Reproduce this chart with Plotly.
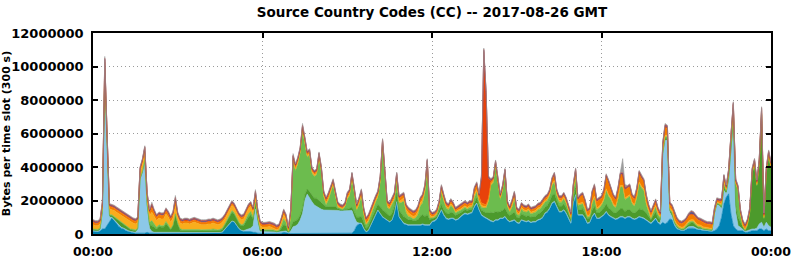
import plotly.graph_objects as go

# ---------------- data (values in millions of bytes per 300 s slot) ----------------
slots_per_hour = 12
tick_hours = [0, 6, 12, 18, 24]
tick_labels = ["00:00", "06:00", "12:00", "18:00", "00:00"]
y_tick_values = [0, 2000000, 4000000, 6000000, 8000000, 10000000, 12000000]
y_tick_labels = ["0", "2000000", "4000000", "6000000", "8000000", "10000000", "12000000"]

cc_darkblue = [
 .15,.12,.12,.18,.3,.3,.5,.7,.95,.8,.6,.45,
 .35,.3,.2,.15,.1,.08,.05,.05,.05,.05,.05,.1,
 .05,.05,.05,.05,.05,.05,.05,.05,.05,.05,.05,.05,
 .05,.05,.05,.05,.05,.05,.05,.05,.05,.05,.05,.05,
 .05,.05,.05,.05,.05,.05,.06,.1,.25,.45,.6,.75,
 .7,.5,.3,.2,.15,.15,.15,.15,.1,.1,.05,.03,
 .03,.03,.03,.03,.03,.03,.02,.02,.05,.1,.08,.02,
 .03,.03,.03,.03,.03,.03,.03,.03,.03,.03,.03,.03,
 .03,.03,.03,.03,.03,.03,.03,.03,.03,.03,.03,.03,
 .03,.03,.05,.2,.5,.6,.6,.3,.1,.2,.5,.8,
 1.1,1.4,1.2,1.0,.9,.8,.7,.8,1.2,1.9,1.0,.8,
 .6,.55,.5,.5,.5,.5,.5,.5,.55,.5,.5,.5,
 .7,.75,.85,1.1,1.4,1.1,.9,.85,.9,.9,.8,.85,
 1.0,1.1,1.2,1.15,1.2,1.25,1.6,1.8,1.4,1.1,1.0,.9,
 .8,.75,.7,.8,.8,.9,.9,1.0,.8,.7,.75,.8,
 .65,.6,.8,.75,.7,.75,.65,.7,.7,.8,.85,.95,
 1.2,1.3,1.5,1.8,1.9,1.6,1.3,1.3,1.4,1.2,.9,.6,
 1.8,2.3,1.1,1.1,1.1,.9,.6,.65,1.0,1.2,.9,.9,
 1.0,1.1,1.3,1.1,1.0,.9,.85,.9,1.0,1.0,.9,1.0,
 1.0,.9,.85,.9,1.0,.95,.9,.8,.7,.6,.75,.9,
 .65,.55,.7,.6,.7,.9,.85,.5,.3,.25,.2,.2,
 .3,.35,.35,.35,.3,.25,.25,.2,.2,.18,.18,.15,
 .2,.3,.5,1.0,1.8,2.2,2.4,1.2,.5,.3,.2,.2,
 .2,.1,.1,.15,.2,.2,.2,.3,.3,.2,.3,.2,
 .2]

cc_lightblue = [
 .05,.05,.05,.05,1.0,9.1,4.6,.3,.05,.05,.05,.05,
 .05,.05,.05,.05,.05,.05,.05,.2,3.2,3.6,4.3,1.6,
 .3,.1,.05,.05,.05,.05,.05,.05,.05,.05,.05,.05,
 .03,.03,.03,.03,.03,.03,.03,.03,.03,.03,.03,.03,
 .03,.03,.03,.03,.03,.03,.03,.03,.03,.03,.03,.03,
 .03,.03,.03,.03,.05,.1,.15,.2,.4,1.4,.6,.12,
 .12,.12,.13,.14,.12,.1,.08,.1,.1,.1,.1,.05,
 .15,.4,.45,.55,.8,1.2,2.0,2.35,2.1,1.9,1.7,1.6,
 1.5,1.45,1.4,1.4,1.4,1.4,1.4,1.4,1.38,1.35,1.35,1.35,
 1.35,1.35,1.35,.8,.2,.05,.05,.05,.03,.03,.03,.03,
 .03,.03,.03,.03,.03,.03,.03,.03,.03,.03,.03,.03,
 .05,.05,.05,.05,.05,.05,.05,.05,.05,.05,.05,.05,
 .05,.05,.05,.05,.05,.05,.05,.05,.05,.05,.05,.05,
 .05,.05,.05,.05,.05,.05,.05,.05,.05,.05,.05,.05,
 .05,.05,.05,.05,.05,.05,.05,.05,.05,.05,.05,.05,
 .05,.05,.05,.05,.05,.05,.05,.05,.05,.05,.05,.05,
 .05,.05,.05,.05,.05,.05,.05,.05,.05,.05,.05,.05,
 .05,.05,.05,.05,.05,.05,.05,.05,.05,.05,.05,.05,
 .05,.05,.05,.05,.05,.05,.05,.05,.05,.05,.05,.05,
 .05,.05,.05,.05,.05,.05,.05,.05,.05,.05,.05,.05,
 .05,.1,4.0,5.0,4.9,.4,.2,.1,.05,.03,.03,.03,
 .05,.08,.1,.1,.08,.05,.05,.05,.03,.03,.03,.03,
 1.0,1.45,1.2,.5,.8,.2,.7,3.5,6.0,1.0,.3,.2,
 .1,.05,.1,.1,.1,.1,.15,.3,.4,.2,.4,.3,
 .2]

cc_darkgreen = [
 .05,.05,.05,.06,.05,.1,.1,.1,.1,.15,.2,.25,
 .25,.2,.2,.15,.1,.1,.1,.05,.05,.05,.05,.05,
 .2,.35,.3,.2,.35,.3,.3,.5,.35,.15,.4,1.0,
 .5,.15,.12,.12,.14,.12,.12,.15,.12,.12,.1,.1,
 .1,.12,.12,.14,.12,.1,.12,.15,.25,.35,.45,.5,
 .45,.35,.3,.25,.3,.5,.7,.8,.4,.3,.2,.05,
 .05,.05,.05,.05,.05,.05,.04,.05,.2,.35,.3,.05,
 .2,.3,.3,.3,.3,.3,.3,.3,.4,.4,.4,.5,
 .5,.4,.3,.2,.2,.2,.2,.2,.1,.1,.05,.1,
 .1,.15,.2,.3,.3,.35,.4,.35,.2,.25,.3,.35,
 .35,.35,.4,.4,.4,.35,.35,.4,.4,.5,.4,.4,
 .4,.35,.3,.3,.25,.25,.3,.5,.55,.5,.6,.3,
 .15,.15,.15,.2,.3,.3,.3,.3,.35,.3,.25,.3,
 .2,.2,.2,.2,.2,.15,.25,.3,.25,.25,.3,.3,
 .4,.5,.5,.5,.45,.4,.45,.5,.4,.35,.4,.45,
 .3,.3,.35,.3,.3,.3,.3,.3,.3,.35,.35,.4,
 .35,.35,.4,.45,.45,.35,.3,.3,.35,.3,.25,.2,
 .3,.4,.3,.3,.35,.3,.25,.25,.35,.4,.3,.3,
 .35,.4,.45,.4,.4,.35,.35,.4,.45,.45,.4,.4,
 .4,.35,.35,.4,.45,.45,.45,.4,.3,.2,.3,.35,
 .25,.2,.1,.1,.1,.1,.15,.1,.1,.05,.05,.05,
 .1,.15,.2,.2,.15,.1,.1,.05,.05,.05,.05,.05,
 .05,.05,.05,.1,.2,.1,.2,.3,.3,.4,.5,.3,
 .1,.05,.3,1.0,3.3,3.8,2.5,3.5,6.4,.5,2.9,4.1,
 3.5]

cc_lightgreen = [
 .05,.05,.05,.05,.05,.1,.05,.05,.05,.05,.05,.05,
 .05,.05,.05,.05,.05,.05,.05,.05,.05,.05,.05,.05,
 .15,.3,.2,.1,.1,.1,.1,.15,.1,.05,.05,.1,
 .08,.08,.07,.07,.07,.07,.08,.08,.07,.07,.07,.07,
 .07,.07,.07,.08,.07,.07,.07,.08,.07,.07,.1,.12,
 .1,.07,.07,.07,.1,.15,.2,.2,.1,.1,.05,.05,
 .05,.05,.06,.06,.05,.05,.04,.05,.15,.35,.2,.03,
 .6,3.6,3.0,3.3,3.7,4.6,3.1,1.9,2.2,1.3,1.3,1.4,
 2.5,1.8,.5,.1,.4,.8,1.3,.6,.05,.05,.05,.15,
 .6,.75,1.7,1.1,.4,.75,1.2,.45,.2,.25,.3,.4,
 .4,.4,1.45,3.85,1.75,.4,.4,.5,.4,.8,.4,.65,
 .9,.3,.2,.15,.1,.15,.3,.6,.7,1.4,2.8,.1,
 .05,.05,.1,.3,.75,.5,.3,.25,.4,.3,.15,.15,
 .15,.15,.15,.1,.15,.15,.3,.35,.2,.2,.2,.3,
 .7,1.6,1.8,2.7,1.6,.7,1.2,2.0,.4,.2,.4,.8,
 .2,.15,.3,.25,.25,.3,.2,.2,.25,.25,.25,.3,
 .3,.3,.35,.6,.7,.3,.25,.25,.3,.25,.1,.05,
 .4,.6,.25,.3,.3,.2,.1,.1,.4,.5,.2,.3,
 .3,.45,.8,.7,.6,.4,.3,.7,1.3,1.3,.7,.7,
 .8,.5,.4,.8,1.5,1.3,1.2,.5,.2,.05,.2,.3,
 .2,.1,.1,.1,.1,.05,.1,.05,.05,.03,.03,.05,
 .05,.1,.1,.1,.05,.05,.03,.03,.03,.02,.02,.02,
 .05,.05,.05,.1,.2,.1,.3,.6,.6,1.3,1.6,.5,
 .05,.03,.05,.05,.05,.05,.05,.05,.05,.03,.05,.05,
 .05]

cc_yellow = [
 .25,.23,.23,.25,.25,.3,.3,.35,.3,.35,.4,.4,
 .4,.4,.4,.4,.4,.37,.35,.35,.35,.4,.4,.35,
 .4,.5,.45,.4,.4,.4,.4,.45,.45,.4,.4,.45,
 .35,.35,.33,.38,.36,.33,.37,.4,.38,.33,.3,.3,
 .3,.33,.33,.36,.33,.3,.32,.35,.3,.3,.3,.3,
 .3,.3,.3,.3,.3,.3,.3,.3,.3,.3,.3,.25,
 .15,.15,.15,.17,.15,.12,.08,.1,.2,.25,.2,.05,
 .2,.1,.1,.1,.1,.1,.1,.1,.1,.1,.1,.1,
 .1,.1,.1,.15,.1,.1,.1,.1,.1,.05,.05,.05,
 .1,.1,.1,.1,.1,.1,.1,.1,.1,.1,.1,.1,
 .1,.1,.1,.1,.1,.1,.1,.1,.1,.1,.1,.15,
 .2,.2,.2,.15,.15,.15,.2,.2,.2,.2,.2,.2,
 .08,.08,.08,.08,.1,.1,.1,.1,.1,.1,.08,.08,
 .08,.08,.08,.08,.08,.08,.15,.15,.1,.1,.1,.1,
 .1,.1,.1,.1,.1,.1,.1,.1,.1,.1,.1,.1,
 .1,.1,.1,.1,.1,.1,.1,.1,.1,.1,.1,.1,
 .1,.1,.1,.1,.1,.1,.1,.1,.1,.1,.1,.1,
 .1,.1,.1,.1,.1,.1,.1,.1,.1,.1,.1,.1,
 .1,.1,.1,.1,.1,.1,.1,.1,.1,.1,.1,.1,
 .1,.1,.1,.1,.1,.1,.1,.1,.1,.1,.1,.1,
 .1,.1,.1,.1,.1,.1,.1,.1,.1,.1,.1,.1,
 .1,.1,.1,.1,.1,.1,.1,.1,.1,.1,.1,.08,
 .05,.05,.05,.1,.1,.05,.05,.05,.1,.05,.05,.05,
 .05,.05,.05,.05,.05,.05,.05,.05,.05,.05,.05,.05,
 .05]

cc_orange = [
 .15,.13,.13,.14,.15,.35,.25,.15,.15,.15,.15,.15,
 .15,.15,.15,.15,.15,.15,.15,.15,.15,.2,.25,.2,
 .2,.3,.25,.2,.2,.2,.2,.2,.2,.2,.25,.35,
 .12,.12,.13,.13,.13,.13,.13,.12,.13,.13,.13,.13,
 .13,.13,.13,.12,.13,.13,.13,.12,.13,.13,.1,.13,
 .1,.1,.1,.13,.13,.13,.13,.13,.13,.2,.13,.13,
 .13,.13,.13,.13,.13,.13,.12,.11,.13,.18,.15,.08,
 .15,.15,.15,.15,.1,.15,.1,.1,.1,.1,.1,.1,
 .1,.1,.1,.15,.2,.2,.1,.1,.1,.05,.05,.05,
 .15,.15,.13,.13,.13,.18,.18,.18,.2,.2,.2,.15,
 .15,.15,.15,.15,.15,.15,.15,.2,.2,.2,.2,.2,
 .18,.18,.18,.18,.18,.18,.18,.18,.18,.18,.18,.18,
 .1,.1,.1,.1,.18,.18,.1,.1,.15,.1,.1,.1,
 .15,.15,.15,.15,.15,.15,.3,.3,.25,.15,.15,.1,
 .1,.1,.1,.1,.1,.1,.1,.1,.1,.1,.2,.2,
 .13,.13,.13,.13,.13,.13,.13,.13,.13,.13,.13,.13,
 .13,.13,.13,.23,.33,.13,.13,.13,.13,.13,.13,.13,
 .18,.33,.23,.38,.43,.38,.23,.28,.53,.58,.38,.38,
 .33,.43,.73,.73,.48,.43,.38,.48,.63,.63,.48,.48,
 .48,.33,.33,.38,.53,.48,.43,.38,.28,.23,.23,.23,
 .18,.1,.3,.45,.4,.2,.2,.3,.25,.2,.2,.25,
 .23,.3,.3,.28,.3,.28,.25,.25,.22,.2,.2,.2,
 .1,.1,.1,.15,.3,.1,.1,.2,.2,.1,.1,.1,
 .2,.15,.15,.1,.1,.15,.1,.15,.2,.1,.15,.15,
 .15]

cc_redorange = [
 .05,.05,.05,.05,.05,.15,.1,.05,.05,.05,.05,.05,
 .05,.05,.05,.05,.05,.05,.05,.05,.05,.05,.05,.05,
 .05,.1,.05,.05,.05,.05,.05,.05,.05,.05,.05,.1,
 .05,.05,.05,.05,.05,.05,.05,.05,.05,.05,.05,.05,
 .05,.05,.05,.05,.05,.05,.05,.05,.05,.05,.05,.05,
 .05,.05,.05,.05,.05,.05,.05,.05,.05,.08,.05,.05,
 .05,.05,.05,.05,.05,.05,.05,.05,.05,.05,.05,.05,
 .05,.05,.05,.05,.05,.05,.05,.05,.05,.05,.05,.05,
 .05,.05,.05,.05,.05,.05,.05,.05,.05,.05,.05,.05,
 .05,.05,.05,.05,.05,.05,.05,.05,.05,.05,.05,.05,
 .05,.05,.05,.05,.05,.05,.05,.05,.05,.05,.05,.05,
 .05,.05,.05,.05,.05,.05,.05,.05,.05,.05,.05,.05,
 .05,.05,.05,.05,.05,.05,.05,.05,.05,.05,.05,.05,
 .05,.05,.05,.05,.05,.05,.05,.05,.05,1.5,9.1,6.6,
 1.2,.1,.05,.05,.05,.05,.05,.05,.05,.05,.05,.05,
 .05,.05,.05,.05,.05,.05,.05,.05,.05,.05,.05,.05,
 .05,.05,.05,.05,.05,.05,.05,.05,.05,.05,.05,.05,
 .05,.05,.05,.05,.05,.05,.05,.05,.05,.05,.05,.05,
 .05,.05,.05,.05,.05,.05,.05,.05,.05,.05,.05,.05,
 .05,.05,.05,.05,.05,.05,.05,.05,.05,.05,.05,.05,
 .05,.05,.05,.08,.06,.05,.05,.05,.05,.05,.05,.05,
 .05,.05,.05,.05,.05,.05,.05,.05,.05,.05,.05,.05,
 .05,.05,.05,.05,.05,.05,.05,.05,.06,.05,.05,.05,
 .05,.05,.05,.05,.05,.05,.05,.05,.06,.05,.05,.05,
 .05]

cc_navy = [
 .04,.04,.04,.04,.04,.05,.04,.04,.04,.04,.04,.04,
 .04,.04,.04,.04,.04,.04,.04,.04,.04,.04,.04,.04,
 .04,.05,.04,.04,.04,.04,.04,.04,.04,.04,.04,.05,
 .04,.04,.04,.04,.04,.04,.04,.04,.04,.04,.04,.04,
 .04,.04,.04,.04,.04,.04,.04,.04,.04,.04,.04,.04,
 .04,.04,.04,.04,.04,.04,.04,.04,.04,.05,.04,.04,
 .04,.04,.04,.04,.04,.04,.04,.04,.04,.04,.04,.04,
 .04,.04,.04,.04,.04,.04,.04,.04,.04,.04,.04,.04,
 .04,.04,.04,.04,.04,.04,.04,.04,.04,.04,.04,.04,
 .04,.04,.04,.04,.04,.04,.04,.04,.04,.04,.04,.04,
 .04,.04,.04,.04,.04,.04,.04,.04,.04,.04,.04,.04,
 .04,.04,.04,.04,.04,.04,.04,.04,.04,.04,.04,.04,
 .04,.04,.04,.04,.04,.04,.04,.04,.04,.04,.04,.04,
 .04,.04,.04,.04,.04,.04,.04,.04,.04,.05,.08,.05,
 .04,.04,.04,.04,.04,.04,.04,.04,.04,.04,.04,.04,
 .04,.04,.04,.04,.04,.04,.04,.04,.04,.04,.04,.04,
 .04,.04,.04,.04,.04,.04,.04,.04,.04,.04,.04,.04,
 .04,.04,.04,.04,.04,.04,.04,.04,.04,.04,.04,.04,
 .04,.04,.04,.04,.04,.04,.04,.04,.04,.04,.04,.04,
 .04,.04,.04,.04,.04,.04,.04,.04,.04,.04,.04,.04,
 .04,.04,.04,.05,.05,.04,.04,.04,.04,.04,.04,.04,
 .04,.04,.12,.1,.04,.04,.04,.04,.04,.04,.04,.04,
 .04,.04,.04,.04,.04,.04,.04,.04,.05,.04,.04,.04,
 .04,.04,.04,.04,.04,.04,.04,.04,.05,.04,.04,.04,
 .04]

cc_red = [
 .03,.03,.03,.03,.03,.05,.03,.03,.03,.03,.03,.03,
 .03,.03,.03,.03,.03,.03,.03,.03,.03,.03,.03,.03,
 .03,.05,.03,.03,.03,.03,.03,.03,.03,.03,.03,.05,
 .03,.03,.03,.03,.03,.03,.03,.03,.03,.03,.03,.03,
 .03,.03,.03,.03,.03,.03,.03,.03,.03,.03,.03,.03,
 .03,.03,.03,.03,.03,.03,.03,.03,.03,.04,.03,.03,
 .03,.03,.03,.03,.03,.03,.03,.03,.03,.03,.03,.03,
 .03,.03,.03,.03,.03,.03,.03,.03,.03,.03,.03,.03,
 .03,.03,.03,.03,.03,.03,.03,.03,.03,.03,.03,.03,
 .03,.03,.03,.03,.03,.03,.03,.03,.03,.03,.03,.03,
 .03,.03,.03,.03,.03,.03,.03,.03,.03,.03,.03,.03,
 .03,.03,.03,.03,.03,.03,.03,.03,.03,.03,.03,.03,
 .03,.03,.03,.03,.03,.03,.03,.03,.03,.03,.03,.03,
 .03,.03,.03,.03,.03,.03,.03,.03,.03,.03,.05,.03,
 .03,.03,.03,.03,.03,.03,.03,.03,.03,.03,.03,.03,
 .03,.03,.03,.03,.03,.03,.03,.03,.03,.03,.03,.03,
 .03,.03,.03,.03,.03,.03,.03,.03,.03,.03,.03,.03,
 .03,.03,.03,.03,.03,.03,.03,.03,.03,.03,.03,.03,
 .03,.03,.03,.03,.03,.03,.03,.03,.03,.03,.03,.03,
 .03,.03,.03,.03,.03,.03,.03,.03,.03,.03,.03,.03,
 .03,.03,.03,.04,.04,.03,.03,.03,.03,.03,.03,.03,
 .03,.03,.03,.03,.03,.03,.03,.03,.03,.03,.03,.03,
 .03,.03,.03,.03,.03,.03,.03,.03,.04,.03,.03,.03,
 .03,.03,.03,.03,.03,.03,.03,.03,.04,.03,.03,.03,
 .03]

cc_gray = [
 .05,.05,.05,.05,.05,.1,.05,.05,.05,.05,.05,.05,
 .05,.05,.05,.05,.05,.05,.05,.05,.05,.05,.05,.05,
 .05,.1,.05,.05,.05,.05,.05,.05,.05,.05,.05,.1,
 .05,.05,.05,.05,.05,.05,.05,.05,.05,.05,.05,.05,
 .05,.05,.05,.05,.05,.05,.05,.05,.05,.05,.05,.05,
 .05,.05,.05,.05,.05,.05,.05,.05,.05,.08,.05,.05,
 .05,.05,.05,.05,.05,.05,.05,.05,.05,.05,.05,.05,
 .05,.1,.05,.05,.05,.1,.05,.05,.05,.05,.05,.05,
 .05,.05,.05,.05,.05,.05,.05,.05,.05,.05,.05,.05,
 .05,.05,.05,.05,.05,.05,.05,.05,.05,.05,.05,.05,
 .05,.05,.05,.05,.05,.05,.05,.05,.05,.05,.05,.05,
 .05,.05,.05,.05,.05,.05,.05,.05,.05,.05,.05,.05,
 .05,.05,.05,.05,.05,.05,.05,.05,.05,.05,.05,.05,
 .05,.05,.05,.05,.05,.05,.05,.05,.05,.07,.07,.07,
 .05,.05,.05,.05,.05,.05,.05,.05,.05,.05,.05,.05,
 .05,.05,.05,.05,.05,.05,.05,.05,.05,.05,.05,.05,
 .05,.05,.05,.05,.05,.05,.05,.05,.05,.05,.05,.05,
 .05,.05,.05,.05,.05,.05,.05,.05,.05,.05,.05,.05,
 .05,.05,.05,.05,.05,.05,.05,.05,.05,.85,.2,.05,
 .05,.05,.05,.05,.05,.05,.05,.05,.05,.05,.05,.05,
 .05,.05,.05,.08,.05,.05,.05,.05,.05,.05,.05,.05,
 .05,.05,.05,.05,.05,.05,.05,.05,.05,.05,.05,.05,
 .05,.05,.05,.05,.05,.05,.05,.05,.05,.05,.05,.05,
 .05,.05,.05,.05,.05,.05,.05,.05,.05,.05,.05,.05,
 .05]

series_names = ["CC 1", "CC 2", "CC 3", "CC 4", "CC 5", "CC 6", "CC 7", "CC 8", "CC 9", "CC 10"]
series_values = [cc_darkblue, cc_lightblue, cc_darkgreen, cc_lightgreen, cc_yellow,
                 cc_orange, cc_redorange, cc_navy, cc_red, cc_gray]
series_colors = ["#0082b4", "#8cc8e8", "#4c9a2c", "#6cbc4e", "#f9ad1c",
                 "#f27c00", "#e8420a", "#3a5ca8", "#c4302a", "#9c9c9c"]

n_slots = len(cc_darkblue)
for s in series_values:
    assert len(s) == n_slots, len(s)

hours = [i / slots_per_hour for i in range(n_slots)]

fig = go.Figure()
for name, vals, col in zip(series_names, series_values, series_colors):
    fig.add_trace(go.Scatter(
        x=hours, y=[v * 1e6 for v in vals], name=name,
        mode="lines", stackgroup="cc",
        line=dict(color=col, width=0.6), fillcolor=col,
        showlegend=False, hoverinfo="skip"))

font_family = "DejaVu Sans"
grid_style = dict(showgrid=True, gridcolor="#9a9a9a", griddash="1px,3px", gridwidth=1)
fig.update_layout(
    width=792, height=259,
    margin=dict(l=93, r=21, t=33, b=25, pad=0),
    paper_bgcolor="white", plot_bgcolor="white",
    title=dict(text="Source Country Codes (CC) -- 2017-08-26 GMT",
               x=0.5, xref="paper", xanchor="center",
               y=0.953, yref="container", yanchor="middle",
               font=dict(family=font_family, size=13.5, color="black", weight="bold")),
    font=dict(family=font_family, color="black"),
)
fig.update_xaxes(
    range=[0, 24], tickmode="array", tickvals=tick_hours, ticktext=tick_labels,
    **grid_style,
    showline=True, linecolor="black", linewidth=1.5, mirror="ticks",
    ticks="inside", ticklen=5, tickwidth=2, tickcolor="black",
    tickfont=dict(family=font_family, size=12.5, color="black", weight="bold"),
    ticklabelstandoff=5, zeroline=False, automargin=False,
)
fig.update_yaxes(
    range=[0, 12000000], tickmode="array", tickvals=y_tick_values, ticktext=y_tick_labels,
    **grid_style,
    showline=True, linecolor="black", linewidth=1.5, mirror="ticks",
    ticks="inside", ticklen=5, tickwidth=2, tickcolor="black",
    tickfont=dict(family=font_family, size=13, color="black", weight="bold"),
    ticklabelstandoff=5, zeroline=False, automargin=False,
    title=dict(text="Bytes per time slot (300 s)", standoff=4,
               font=dict(family=font_family, size=11, color="black", weight="bold")),
)

fig.write_html("out.html")
